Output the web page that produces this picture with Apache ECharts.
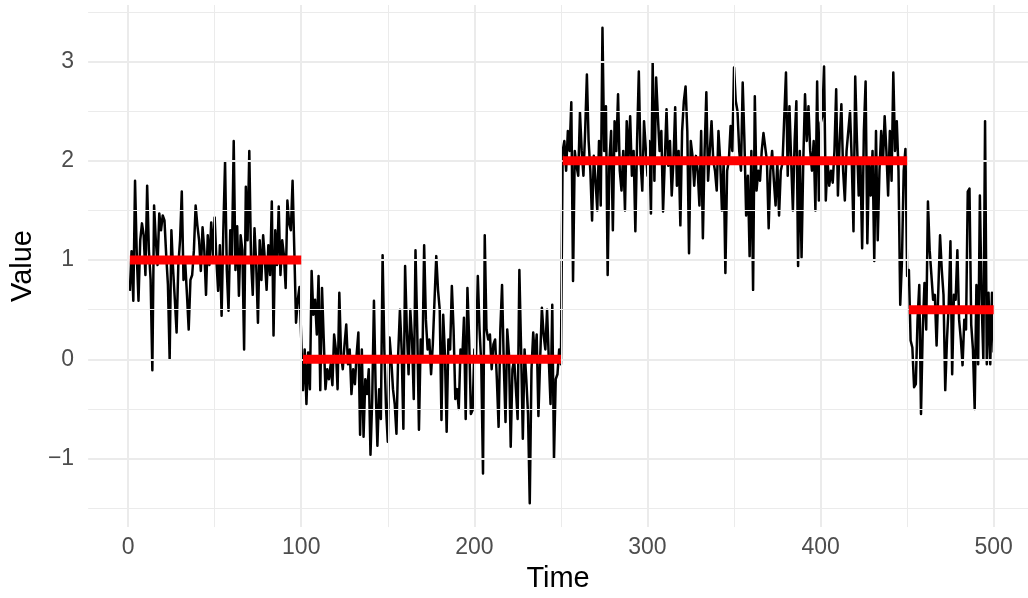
<!DOCTYPE html>
<html>
<head>
<meta charset="utf-8">
<script src="https://cdn.jsdelivr.net/npm/echarts@6/dist/echarts.min.js"></script>
<style>html,body{margin:0;padding:0;background:#fff}#c{width:1028px;height:598px}</style>
</head>
<body>
<div id="c"></div>
<script>
// ---- data ----
const seg1Values = [0.69,1.09,0.59,1.80,1.05,0.59,1.20,1.37,1.25,0.85,1.75,1.10,0.80,-0.11,1.55,1.20,0.95,1.47,1.30,1.45,
1.40,1.05,0.75,0.00,1.30,0.90,0.60,0.27,0.95,1.20,1.69,0.80,0.97,0.65,0.30,0.80,0.85,1.10,1.55,1.35,
1.20,0.89,1.33,1.10,0.65,1.25,0.95,1.38,1.05,1.43,1.00,0.69,1.15,0.44,1.30,1.99,0.90,0.49,1.30,1.05,
2.20,0.90,1.34,0.64,1.25,1.10,0.10,1.74,1.20,2.10,1.00,0.65,1.32,0.95,0.37,1.20,0.80,1.25,1.00,0.70,
1.15,0.85,1.59,0.24,1.30,0.95,1.54,0.85,1.20,1.05,0.72,1.60,1.37,1.30,1.80,1.10,0.37,0.60,0.73,0.75];
const seg2Values = [-0.31,0.10,-0.45,0.07,-0.30,0.89,0.45,0.60,0.25,0.84,-0.31,0.72,0.20,-0.30,-0.10,-0.20,-0.05,-0.26,0.25,0.10,
-0.30,0.67,0.05,-0.10,0.15,0.35,-0.05,0.10,-0.35,-0.10,-0.25,0.05,0.27,-0.76,0.10,-0.78,-0.20,-0.35,-0.10,-0.96,
-0.40,0.59,-0.30,-0.87,-0.30,-0.60,1.05,0.10,-0.50,-0.83,0.22,0.00,-0.30,-0.45,-0.75,0.05,0.50,0.10,-0.70,0.94,
0.30,-0.15,0.50,0.20,-0.40,1.10,0.30,-0.71,0.20,0.00,1.15,0.40,0.10,0.20,-0.15,0.15,0.60,1.04,0.70,0.50,
-0.61,0.45,0.05,-0.73,0.20,0.10,0.74,0.30,-0.40,-0.30,-0.50,0.10,0.00,0.42,-0.60,0.72,0.20,-0.55,-0.51,0.10,
0.05,0.84,0.30,-0.05,-1.15,1.25,0.30,0.20,0.25,-0.10,0.15,0.20,-0.20,-0.68,0.30,0.75,-0.05,-0.63,0.30,0.05,
-0.88,-0.10,0.00,-0.30,-0.60,0.90,0.10,-0.80,0.10,-0.20,-0.55,-1.45,-0.10,0.27,0.00,0.25,-0.57,0.00,0.52,0.25,
0.10,0.50,0.00,-0.45,0.55,-1.00,-0.20,-0.15,0.10,-0.05];
const seg3Values = [2.10,2.20,1.90,2.30,2.10,2.59,0.79,2.10,1.95,1.85,2.49,2.10,1.85,2.30,2.87,2.20,1.90,1.40,2.05,1.80,
1.50,2.20,1.55,3.34,2.10,2.55,0.85,2.00,2.30,1.30,2.40,2.10,2.67,1.90,1.70,2.10,1.50,2.40,2.00,2.45,
1.85,2.10,1.29,2.20,2.90,2.00,1.70,2.40,2.40,1.85,2.20,1.47,2.99,1.80,2.84,2.45,2.10,2.30,1.49,2.00,
2.52,1.95,2.20,1.65,2.00,2.54,1.75,2.10,1.35,2.30,2.60,2.75,2.30,1.07,2.20,2.05,1.75,2.05,1.90,1.55,
2.30,1.22,2.10,2.69,1.80,2.10,2.40,2.00,1.90,1.70,2.30,2.00,1.50,2.00,0.87,1.90,2.00,2.35,2.10,2.94,
2.60,2.50,2.10,1.90,2.79,2.20,1.45,1.85,1.04,2.10,0.70,2.65,1.70,1.90,1.80,2.10,2.28,2.30,2.00,1.32,
1.90,2.10,1.80,1.55,2.00,1.45,1.90,1.98,2.00,2.89,1.85,2.55,2.00,1.50,2.20,2.60,0.94,2.10,1.03,2.00,
2.67,2.20,2.55,2.10,1.90,2.20,1.50,2.80,1.60,2.38,2.45,2.95,1.60,2.00,1.75,1.90,1.78,2.10,2.72,1.65,
2.20,2.57,1.90,1.60,2.10,2.30,2.50,2.00,1.29,2.85,2.20,1.65,2.00,1.12,2.30,2.80,1.17,2.00,1.65,2.10,
0.99,2.30,1.20,1.90,2.30,1.97,2.45,2.10,1.65,2.30,1.80,2.89,2.10,2.40,1.90,0.55,1.00,1.90,2.12,0.84];
const seg4Values = [0.90,0.19,0.12,-0.28,-0.25,0.40,0.75,-0.55,0.30,0.77,0.30,1.59,1.10,0.85,0.60,0.65,0.14,0.70,1.25,0.90,
0.65,-0.31,0.20,0.55,1.19,-0.15,0.65,0.60,1.10,0.40,0.20,-0.06,0.40,0.30,1.69,1.72,0.35,0.10,-0.50,0.75,
-0.05,1.65,0.60,0.00,2.40,-0.05,0.67,-0.05,0.67,0.07];

const segStart = [1, 101, 251, 451];
const segEnd   = [100, 250, 450, 500];
const segMean  = [1, 0, 2, 0.5];

const xTicks = [0, 100, 200, 300, 400, 500];
const xMinorTicks = [50, 150, 250, 350, 450];
const yTicks = [-1, 0, 1, 2, 3];
const yMinorTicks = [-1.5, -0.5, 0.5, 1.5, 2.5, 3.5];

// ---- build ----
const allValues = seg1Values.concat(seg2Values, seg3Values, seg4Values);
const lineData = allValues.map((v, i) => [i + 1, v]);

const gridLines = [];
xMinorTicks.forEach(v => gridLines.push({xAxis: v, lineStyle: {color: '#EBEBEB', width: 1, type: 'solid'}}));
yMinorTicks.forEach(v => gridLines.push({yAxis: v, lineStyle: {color: '#EBEBEB', width: 1, type: 'solid'}}));
xTicks.forEach(v => gridLines.push({xAxis: v, lineStyle: {color: '#EBEBEB', width: 2, type: 'solid'}}));
yTicks.forEach(v => gridLines.push({yAxis: v, lineStyle: {color: '#EBEBEB', width: 2, type: 'solid'}}));

const segSeries = segMean.map((m, i) => ({
  type: 'line',
  data: [[segStart[i], m], [segEnd[i], m]],
  showSymbol: false,
  symbol: 'none',
  lineStyle: {color: '#FF0000', width: 9, cap: 'butt'},
  z: 5,
  silent: true,
  animation: false
}));

const font = '"Liberation Sans", Arial, Helvetica, sans-serif';
const chart = echarts.init(document.getElementById('c'), null, {renderer: 'canvas'});
chart.setOption({
  animation: false,
  backgroundColor: '#ffffff',
  grid: {left: 86, right: 0, top: 5, bottom: 67, containLabel: false},
  xAxis: {
    type: 'value', min: -23.1, max: 519.8,
    axisLine: {show: false}, axisTick: {show: false}, splitLine: {show: false},
    axisLabel: {customValues: xTicks, color: '#4D4D4D', fontSize: 23, fontFamily: font, margin: 9},
    name: 'Time', nameLocation: 'middle', nameGap: 36,
    nameTextStyle: {color: '#000', fontSize: 29, fontFamily: font}
  },
  yAxis: {
    type: 'value', min: -1.69, max: 3.57,
    axisLine: {show: false}, axisTick: {show: false}, splitLine: {show: false},
    axisLabel: {customValues: yTicks, color: '#4D4D4D', fontSize: 23, fontFamily: font, margin: 14,
      formatter: v => (v < 0 ? '\u2212' + Math.abs(v) : String(v))},
    name: 'Value', nameLocation: 'middle', nameGap: 50, nameRotate: 90,
    nameTextStyle: {color: '#000', fontSize: 29, fontFamily: font}
  },
  series: [
    {
      type: 'line', data: [[0, 0]], symbol: 'none', lineStyle: {opacity: 0}, z: 0, silent: true,
      markLine: {silent: true, symbol: 'none', label: {show: false}, animation: false, data: gridLines}
    },
    {
      type: 'line', data: lineData, symbol: 'none', showSymbol: false,
      lineStyle: {color: '#000000', width: 2.5, join: 'round'}, z: 3, silent: true
    }
  ].concat(segSeries)
});
</script>
</body>
</html>
